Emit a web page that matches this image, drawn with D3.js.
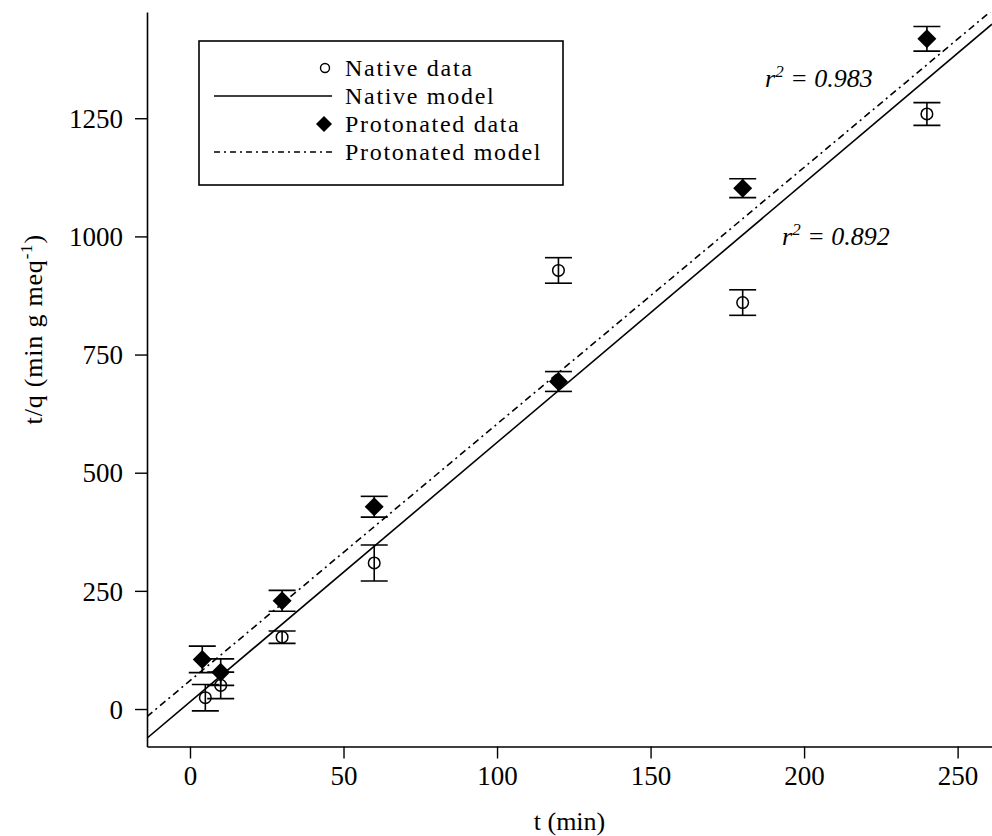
<!DOCTYPE html>
<html>
<head>
<meta charset="utf-8">
<script src="https://cdn.jsdelivr.net/npm/d3@7"></script>
<style>
  html, body { margin: 0; padding: 0; background: #fff; }
  svg, svg text { font-family: "Liberation Serif", "Tinos", "Times New Roman", "DejaVu Serif", serif !important; }
</style>
</head>
<body>
<svg id="chart" width="992" height="836"></svg>
<script>
// ---------------- data ----------------
const nativeT      = [5, 10, 30, 60, 120, 180, 240];
const nativeVal    = [24, 50, 152, 309, 928, 860, 1259];
const nativeErr    = [28, 28, 13, 38, 27, 27, 24];

const protT        = [4, 10, 30, 60, 120, 180, 240];
const protVal      = [105, 78, 229, 428, 693, 1102, 1418];
const protErr      = [28, 28, 22, 22, 21, 20, 26];

// linear models: [intercept, slope]
const nativeModel  = [15, 5.49];
const protModel    = [60, 5.43];

const xTicks = [0, 50, 100, 150, 200, 250];
const yTicks = [0, 250, 500, 750, 1000, 1250];

const legendLabels = ["Native data", "Native model", "Protonated data", "Protonated model"];
const r2Labels = ["0.983", "0.892"];

// ---------------- layout ----------------
const svg = d3.select("#chart");
const pL = 147, pR = 992, pT = 12, pB = 746.5;

const x = d3.scaleLinear().domain([-14.0, 261.2]).range([pL, pR]);
const y = d3.scaleLinear().domain([-79.3, 1474.8]).range([pB, pT]);

const tickFont = 27;

// clip
svg.append("defs").append("clipPath").attr("id", "plotclip")
  .append("rect").attr("x", pL).attr("y", pT).attr("width", pR - pL).attr("height", pB - pT);

// axes
const xAxis = svg.append("g").attr("transform", `translate(0,${pB})`)
  .call(d3.axisBottom(x).tickValues(xTicks).tickFormat(d3.format("d"))
    .tickSize(12).tickSizeOuter(0).tickPadding(7));
const yAxis = svg.append("g").attr("transform", `translate(${pL},0)`)
  .call(d3.axisLeft(y).tickValues(yTicks).tickFormat(d3.format("d"))
    .tickSize(12).tickSizeOuter(0).tickPadding(12));
[xAxis, yAxis].forEach(g => {
  g.attr("font-family", null).attr("font-size", null);
  g.select(".domain").attr("stroke", "#000").attr("stroke-width", 1.6);
  g.selectAll(".tick line").attr("stroke", "#000").attr("stroke-width", 1.4);
  g.selectAll(".tick text").attr("fill", "#000").attr("font-size", tickFont);
});
yAxis.selectAll(".tick text").attr("dy", "0.34em");

// axis titles
svg.append("text").attr("x", (pL + pR) / 2).attr("y", 830)
  .attr("text-anchor", "middle").attr("font-size", 26).text("t (min)");

const yt = svg.append("text")
  .attr("transform", `translate(42,${(pT + pB) / 2 - 50}) rotate(-90)`)
  .attr("text-anchor", "middle").attr("font-size", 26).attr("letter-spacing", 0.8);
yt.append("tspan").text("t/q (min g meq");
yt.append("tspan").attr("dy", -10).attr("font-size", 17).text("-1");
yt.append("tspan").attr("dy", 10).text(")");

// ---------------- models ----------------
const plot = svg.append("g").attr("clip-path", "url(#plotclip)");
const xd = x.domain();
const line = d3.line().x(d => x(d[0])).y(d => y(d[1]));

plot.append("path")
  .datum(xd.map(t => [t, nativeModel[0] + nativeModel[1] * t]))
  .attr("d", line).attr("fill", "none").attr("stroke", "#000").attr("stroke-width", 1.6);

plot.append("path")
  .datum(xd.map(t => [t, protModel[0] + protModel[1] * t]))
  .attr("d", line).attr("fill", "none").attr("stroke", "#000").attr("stroke-width", 1.6)
  .attr("stroke-dasharray", "7,4,2,4");

// ---------------- error bars & points ----------------
const capHalf = 13.5;
function errorBars(ts, vs, es) {
  const g = plot.append("g").attr("stroke", "#000").attr("stroke-width", 1.6);
  ts.forEach((t, i) => {
    const cx = x(t), y1 = y(vs[i] + es[i]), y2 = y(vs[i] - es[i]);
    g.append("line").attr("x1", cx).attr("x2", cx).attr("y1", y1).attr("y2", y2);
    g.append("line").attr("x1", cx - capHalf).attr("x2", cx + capHalf).attr("y1", y1).attr("y2", y1);
    g.append("line").attr("x1", cx - capHalf).attr("x2", cx + capHalf).attr("y1", y2).attr("y2", y2);
  });
}
errorBars(nativeT, nativeVal, nativeErr);
errorBars(protT, protVal, protErr);

const diamond = s => `M0,${-s}L${s},0L0,${s}L${-s},0Z`;

plot.append("g").selectAll("circle").data(nativeT).join("circle")
  .attr("cx", d => x(d)).attr("cy", (d, i) => y(nativeVal[i])).attr("r", 5.8)
  .attr("fill", "none").attr("stroke", "#000").attr("stroke-width", 1.5);

plot.append("g").selectAll("path").data(protT).join("path")
  .attr("transform", (d, i) => `translate(${x(d)},${y(protVal[i])})`)
  .attr("d", diamond(9.5)).attr("fill", "#000");

// ---------------- r² annotations ----------------
function r2(xp, yp, val) {
  const t = svg.append("text").attr("x", xp).attr("y", yp)
    .attr("font-size", 26).attr("font-style", "italic");
  t.append("tspan").text("r");
  t.append("tspan").attr("dy", -10).attr("font-size", 17).text("2");
  t.append("tspan").attr("dy", 10).text(" = " + val);
}
r2(765, 87, r2Labels[0]);
r2(782, 245, r2Labels[1]);

// ---------------- legend ----------------
const lg = svg.append("g");
lg.append("rect").attr("x", 199).attr("y", 41).attr("width", 364).attr("height", 144)
  .attr("fill", "#fff").attr("stroke", "#000").attr("stroke-width", 1.6);
const rowY = [68, 96, 124, 152];
legendLabels.forEach((lab, i) => {
  lg.append("text").attr("x", 345).attr("y", rowY[i] + 8).attr("font-size", 24)
    .attr("letter-spacing", 1.7).text(lab);
});
lg.append("circle").attr("cx", 325).attr("cy", rowY[0]).attr("r", 4.5)
  .attr("fill", "none").attr("stroke", "#000").attr("stroke-width", 1.4);
lg.append("line").attr("x1", 214).attr("x2", 332).attr("y1", rowY[1]).attr("y2", rowY[1])
  .attr("stroke", "#000").attr("stroke-width", 1.4);
lg.append("path").attr("transform", `translate(324,${rowY[2]})`).attr("d", diamond(8)).attr("fill", "#000");
lg.append("line").attr("x1", 214).attr("x2", 332).attr("y1", rowY[3]).attr("y2", rowY[3])
  .attr("stroke", "#000").attr("stroke-width", 1.4).attr("stroke-dasharray", "6,4,2,4");
</script>
</body>
</html>
